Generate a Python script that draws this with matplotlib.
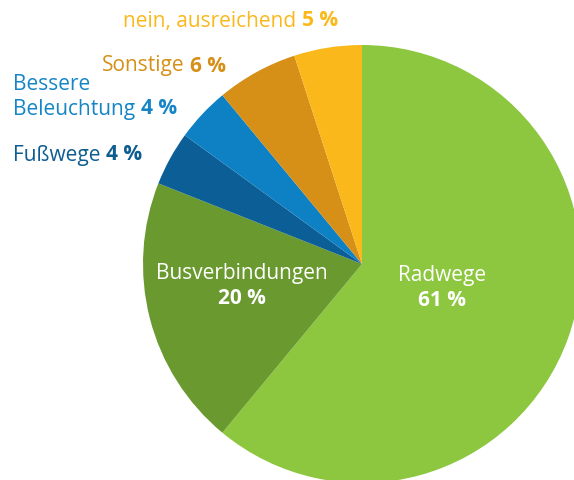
import matplotlib.pyplot as plt

# Antworten (Anteile in %)
labels = ['Radwege', 'Busverbindungen', 'Fußwege', 'Bessere\nBeleuchtung', 'Sonstige', 'nein, ausreichend']
values = [61, 20, 4, 4, 6, 5]
colors = ['#8DC63F', '#6A9A2F', '#0C5F96', '#0E80C4', '#D68F17', '#FBB81B']
text_colors = ['white', 'white', '#0D5D91', '#1585C6', '#D68F17', '#FBB81B']

plt.rcParams['font.family'] = ['Open Sans', 'DejaVu Sans']

fig = plt.figure(figsize=(5.74, 4.80), dpi=100)
ax = fig.add_axes([0, 0, 1, 1])

# pie centre and radius in pixels (y measured from bottom)
cx, cy, r = 362, 480 - 264, 219
ax.pie(values, colors=colors, startangle=90, counterclock=False,
       center=(cx, cy), radius=r, frame=True,
       wedgeprops=dict(linewidth=0))
ax.set_xlim(0, 574)
ax.set_ylim(0, 480)
ax.set_aspect('equal')
ax.axis('off')

fs = 15


def label(x, y, name, pct, color):
    t = ax.text(x, 480 - y, name, color=color, fontsize=fs, va='center', ha='left')
    ax.annotate(f'{pct} %', xy=(1, 0), xycoords=t, xytext=(4, 0),
                textcoords='offset points', color=color, fontsize=fs,
                fontweight='bold', va='bottom', ha='left')


label(123, 21, labels[5], values[5], text_colors[5])
label(102, 66, labels[4], values[4], text_colors[4])
ax.text(13, 480 - 85, 'Bessere', color=text_colors[3], fontsize=fs, va='center')
label(13, 109, 'Beleuchtung', values[3], text_colors[3])
label(13, 155, labels[2], values[2], text_colors[2])

# labels inside the big slices
ax.text(242, 480 - 273, labels[1], color='white', fontsize=fs, ha='center', va='center')
ax.text(242, 480 - 298, f'{values[1]} %', color='white', fontsize=fs,
        fontweight='bold', ha='center', va='center')
ax.text(442, 480 - 275, labels[0], color='white', fontsize=fs, ha='center', va='center')
ax.text(442, 480 - 300, f'{values[0]} %', color='white', fontsize=fs,
        fontweight='bold', ha='center', va='center')

fig.savefig('out.png', dpi=100)
